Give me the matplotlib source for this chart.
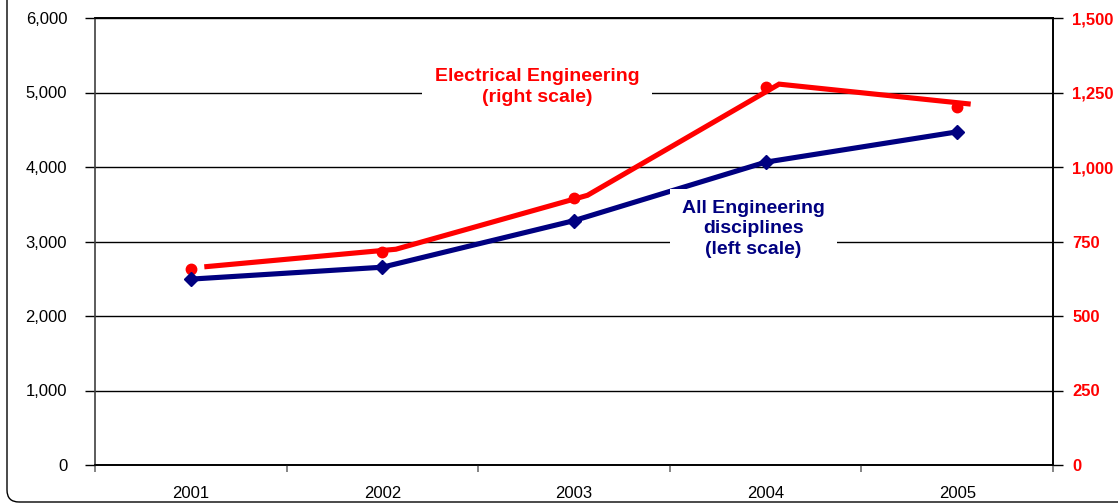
import matplotlib
matplotlib.use("Agg")
import matplotlib.pyplot as plt
from matplotlib.patches import FancyBboxPatch
from matplotlib.transforms import IdentityTransform, offset_copy
from matplotlib.ticker import FuncFormatter, FixedLocator

plt.rcParams["font.family"] = ["Liberation Sans", "DejaVu Sans"]

years = ["2001", "2002", "2003", "2004", "2005"]
all_engineering = [2495, 2655, 3280, 4065, 4472]      # left scale
electrical_engineering = [657, 716, 897, 1270, 1203]  # right scale

left_ticks = [0, 1000, 2000, 3000, 4000, 5000, 6000]
right_ticks = [0, 250, 500, 750, 1000, 1250, 1500]

BLUE = "#000080"
RED = "#ff0000"

W, H = 1118, 503
fig = plt.figure(figsize=(W / 100, H / 100), dpi=100)
fig.patch.set_facecolor("white")

ax = fig.add_axes([95 / W, (H - 465) / H, (1053 - 95) / W, (465 - 18) / H])
ax2 = ax.twinx()

# left-scale axis drawn on top so the blue series sits over the red one
ax.set_zorder(ax2.get_zorder() + 1)
ax.patch.set_visible(False)
ax2.patch.set_visible(False)

x = list(range(len(years)))

# Electrical engineering line (right scale), line shifted off its markers
line_tr = offset_copy(ax2.transData, fig=fig, x=13.5, y=2.4, units="dots")
ax2.plot(x, electrical_engineering, color=RED, lw=3.7, solid_capstyle="butt",
         solid_joinstyle="miter", transform=line_tr, zorder=3)
ax2.plot(x, electrical_engineering, linestyle="none", marker="o", ms=7.5,
         color=RED, zorder=4)

# All engineering disciplines (left scale)
ax.plot(x, all_engineering, color=BLUE, lw=3.7, marker="D", ms=7.5,
        solid_joinstyle="miter", zorder=3)

ax.set_xlim(-0.5, len(years) - 0.5)
ax.set_ylim(0, 6000)
ax2.set_ylim(0, 1500)

# gridlines from the right-scale ticks (same heights as the left ones)
ax2.yaxis.set_major_locator(FixedLocator(right_ticks))
ax2.grid(axis="y", color="black", lw=1.0, zorder=0)
ax2.set_axisbelow(True)

ax.yaxis.set_major_locator(FixedLocator(left_ticks))
ax.yaxis.set_major_formatter(FuncFormatter(lambda v, p: f"{int(v):,}"))
ax2.yaxis.set_major_formatter(FuncFormatter(lambda v, p: f"{int(v):,}"))

ax.set_xticks(x)
ax.set_xticklabels(years)
ax.set_xticks([i - 0.5 for i in range(len(years) + 1)], minor=True)
ax.tick_params(axis="x", which="major", length=0, pad=15, labelsize=12,
               labelcolor="black")
ax.tick_params(axis="x", which="minor", length=5, width=1.2, color="#707070",
               direction="out")
ax.tick_params(axis="y", length=7, width=1, color="black", direction="out",
               pad=13, labelsize=12)
ax2.tick_params(axis="y", length=7, width=1, color="black", direction="out",
                pad=7, labelsize=12, labelcolor=RED)
for lab in ax2.get_yticklabels():
    lab.set_fontweight("bold")

for a in (ax, ax2):
    for s in a.spines.values():
        s.set_linewidth(1.2)
        s.set_color("black")
ax.spines["left"].set_color("#404040")
ax2.spines["left"].set_visible(False)

# series labels with white boxes over the gridlines
ax2.text(1.807, 1268, "Electrical Engineering\n(right scale)", color=RED,
         fontsize=14, fontweight="bold", ha="center", va="center",
         linespacing=1.3, zorder=6,
         bbox=dict(boxstyle="square,pad=0.65", fc="white", ec="none"))
ax.text(2.937, 3168, "All Engineering\ndisciplines\n(left scale)", color=BLUE,
        fontsize=14, fontweight="bold", ha="center", va="center",
        linespacing=1.25, zorder=6,
        bbox=dict(boxstyle="square,pad=0.6", fc="white", ec="none"))

# rounded outer frame
frame = FancyBboxPatch((7, 1), 1400, 700, boxstyle="round,pad=0,rounding_size=12",
                       transform=IdentityTransform(), fill=False, ec="black",
                       lw=1.0)
fig.add_artist(frame)

fig.savefig("out.png", dpi=100, facecolor="white")
